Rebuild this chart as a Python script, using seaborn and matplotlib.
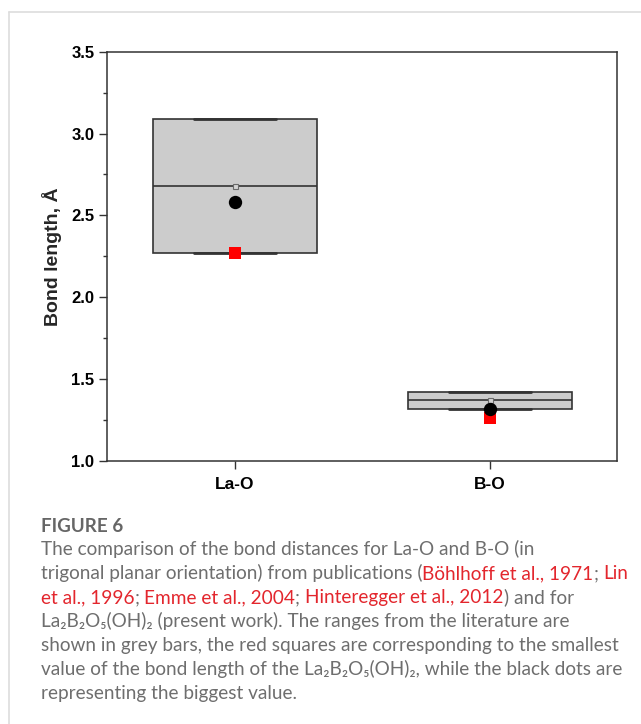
import matplotlib
matplotlib.use("Agg")
import pandas as pd
import matplotlib.pyplot as plt
import seaborn as sns
from matplotlib.lines import Line2D
from matplotlib.ticker import MultipleLocator, FormatStrFormatter

# Data
bonds = ["La-O", "B-O"]
lit_min = [2.27, 1.32]      # literature range (grey bars)
lit_median = [2.68, 1.37]
lit_max = [3.09, 1.42]
ours_min = [2.27, 1.26]     # red squares, La2B2O5(OH)2 smallest
ours_max = [2.58, 1.32]     # black dots, La2B2O5(OH)2 biggest

# long table so the box spans min..max with the median line in between
rows = []
for b, lo, md, hi in zip(bonds, lit_min, lit_median, lit_max):
    for v in (lo, lo, md, hi, hi):
        rows.append({"bond": b, "length": v})
lit = pd.DataFrame(rows)
ours = pd.DataFrame({"bond": bonds, "min": ours_min, "max": ours_max})

sns.set_style("ticks")
plt.rcParams["font.family"] = ["Liberation Sans", "DejaVu Sans"]

W, H = 641, 724
fig = plt.figure(figsize=(W / 100, H / 100), dpi=100)
ax = fig.add_axes([107.3 / W, 1 - 461 / H, 510 / W, 409.3 / H])

edge = "#333333"
sns.boxplot(
    data=lit, x="bond", y="length", order=bonds, ax=ax,
    width=0.645, whis=0, color="#cccccc", saturation=1,
    linecolor=edge, linewidth=1.2, showfliers=False,
    showmeans=True,
    meanprops=dict(marker="s", markersize=3.6, markerfacecolor="#d4d4d4",
                   markeredgecolor="#6a6a6a", markeredgewidth=0.8),
    capprops=dict(linewidth=2.0),
)
sns.stripplot(data=ours, x="bond", y="min", order=bonds, ax=ax, jitter=False,
              marker="s", color="#ff0000", size=8.1, linewidth=0, zorder=5)
sns.stripplot(data=ours, x="bond", y="max", order=bonds, ax=ax, jitter=False,
              marker="o", color="black", size=9.6, linewidth=0, zorder=6)

ax.set_xlim(-0.5, 1.5)
ax.set_ylim(1.0, 3.5)
ax.yaxis.set_major_locator(MultipleLocator(0.5))
ax.yaxis.set_minor_locator(MultipleLocator(0.25))
ax.yaxis.set_major_formatter(FormatStrFormatter("%.1f"))
ax.set_xlabel("")
ax.set_ylabel("Bond length, Å", fontsize=14, fontweight="bold")
ax.yaxis.set_label_coords(-0.088, 0.5)

for s in ax.spines.values():
    s.set_visible(True)
    s.set_linewidth(1.1)
    s.set_color(edge)
ax.tick_params(axis="both", which="major", length=5.8, width=1.0, color=edge,
               direction="out", labelsize=12)
ax.tick_params(axis="y", which="minor", length=2.8, width=1.0, color=edge,
               direction="out")
ax.tick_params(axis="y", pad=3.5)
ax.tick_params(axis="x", pad=5.5, labelsize=12.5)
for lab in ax.get_xticklabels() + ax.get_yticklabels():
    lab.set_fontweight("bold")
    lab.set_color("black")

# card border
fig.add_artist(Line2D([9.3 / W, 9.3 / W], [0, 1 - 12 / H], color="#dddddd", lw=1.2))
fig.add_artist(Line2D([9.3 / W, 1], [1 - 12 / H, 1 - 12 / H], color="#dddddd", lw=1.2))

# caption
cap_font = ["Lato", "DejaVu Sans"]
grey = "#6e6e6e"
red = "#e3262d"
cap_size = 13.7
renderer = fig.canvas.get_renderer()


def text_width(s):
    t = fig.text(0, 0, s, fontsize=cap_size, family=cap_font)
    w = t.get_window_extent(renderer).width
    t.remove()
    return w


def caption_line(y_px, parts):
    x0 = 41
    prefix = ""
    base = text_width("x")
    for txt, col in parts:
        x = x0 + (text_width(prefix + "x") - base if prefix else 0)
        fig.text(x / W, 1 - y_px / H, txt, color=col, fontsize=cap_size,
                 family=cap_font, va="baseline", ha="left")
        prefix += txt


fig.text(41 / W, 1 - 531.7 / H, "FIGURE 6", color="#666666", fontsize=13.6,
         family=cap_font, fontweight="bold", va="baseline", ha="left")

lines = [
    [("The comparison of the bond distances for La-O and B-O (in", grey)],
    [("trigonal planar orientation) from publications (", grey),
     ("Böhlhoff et al., 1971", red), ("; ", grey), ("Lin", red)],
    [("et al., 1996", red), ("; ", grey), ("Emme et al., 2004", red), ("; ", grey),
     ("Hinteregger et al., 2012", red), (") and for", grey)],
    [("La₂B₂O₅(OH)₂ (present work). The ranges from the literature are", grey)],
    [("shown in grey bars, the red squares are corresponding to the smallest", grey)],
    [("value of the bond length of the La₂B₂O₅(OH)₂, while the black dots are", grey)],
    [("representing the biggest value.", grey)],
]
for i, parts in enumerate(lines):
    caption_line(555 + 24 * i, parts)

fig.savefig("out.png", dpi=100)
